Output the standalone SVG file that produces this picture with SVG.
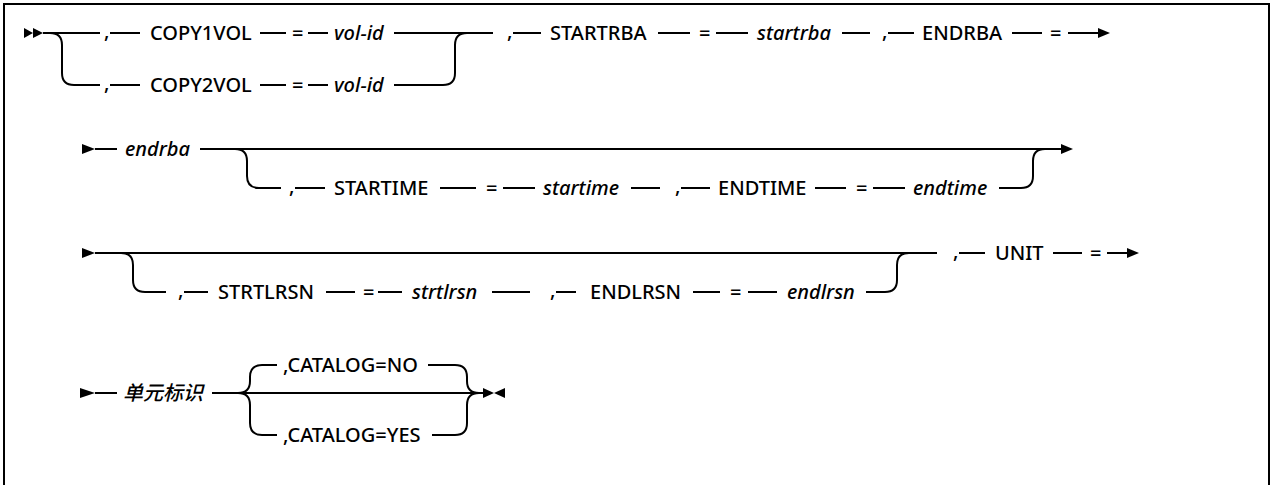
<svg xmlns="http://www.w3.org/2000/svg" width="1274" height="485" viewBox="0 0 1274 485">
<style>
.t{font-family:"Noto Sans","Liberation Sans",Arial,sans-serif;font-size:20px;font-weight:500;fill:#000}
.v{font-style:italic}
.c{font-family:"Noto Sans","Noto Sans CJK SC",sans-serif;font-size:20px;font-weight:500;font-style:italic;fill:#000}
.ln{stroke:#000;stroke-width:2;fill:none}
.ah{fill:#000}
</style>
<rect x="4" y="4" width="1265" height="500" fill="#fff" stroke="#000" stroke-width="2"/>
<g id="connectors">
<!-- row 1 -->
<polygon class="ah" points="24,28 33,33 24,38"/>
<polygon class="ah" points="33,28 43,33 33,38"/>
<path class="ln" d="M43 33H100"/>
<path class="ln" d="M50 33Q62 33 62 45V73Q62 85 74 85H100"/>
<path class="ln" d="M110 33H140M260 33H286M308 33H328M394 33H493"/>
<path class="ln" d="M110 85H140M260 85H286M308 85H328M394 85H443Q455 85 455 73V45Q455 33 467 33"/>
<path class="ln" d="M513 33H541M658 33H690M716 33H748M842 33H870M888 33H914M1012 33H1042M1068 33H1099"/>
<polygon class="ah" points="1098,28 1110,33 1098,38"/>
<!-- row 2 -->
<polygon class="ah" points="82,144 95,149 82,154"/>
<path class="ln" d="M95 149H117M200 149H1062"/>
<polygon class="ah" points="1061,144 1073,149 1061,154"/>
<path class="ln" d="M235 149Q247 149 247 161V176Q247 188 259 188H281"/>
<path class="ln" d="M295 188H325M440 188H476M503 188H535M631 188H660M681 188H710M815 188H846M873 188H905M999 188H1021Q1033 188 1033 176V161Q1033 149 1045 149"/>
<!-- row 3 -->
<polygon class="ah" points="82,248 95,253 82,258"/>
<path class="ln" d="M95 253H937"/>
<path class="ln" d="M121 253Q133 253 133 265V280Q133 292 145 292H166"/>
<path class="ln" d="M184 292H208M326 292H355M378 292H402M492 292H530M556 292H576M693 292H720M748 292H777M866 292H885Q897 292 897 280V265Q897 253 909 253"/>
<path class="ln" d="M959 253H985M1053 253H1082M1107 253H1128"/>
<polygon class="ah" points="1127,248 1139,253 1127,258"/>
<!-- row 4 -->
<polygon class="ah" points="80,388 95,393 80,398"/>
<path class="ln" d="M95 393H117M212 393H484"/>
<path class="ln" d="M238 393Q250 393 250 381V377Q250 365 262 365H277"/>
<path class="ln" d="M238 393Q250 393 250 405V423Q250 435 262 435H277"/>
<path class="ln" d="M428 365H455Q467 365 467 377V381Q467 393 479 393"/>
<path class="ln" d="M432 435H455Q467 435 467 423V405Q467 393 479 393"/>
<polygon class="ah" points="483,388 494,393 483,398"/>
<polygon class="ah" points="505,388 494,393 505,398"/>
</g>
<g id="n-comma1a"><text class="t" x="104" y="38">,</text></g>
<g id="n-copy1vol"><text class="t" x="150" y="40">COPY1VOL</text></g>
<g id="n-eq1a"><text class="t" x="292" y="40">=</text></g>
<g id="n-volid1"><text class="t v" x="334" y="40">vol-id</text></g>
<g id="n-comma1b"><text class="t" x="104" y="90">,</text></g>
<g id="n-copy2vol"><text class="t" x="150" y="92">COPY2VOL</text></g>
<g id="n-eq1b"><text class="t" x="292" y="92">=</text></g>
<g id="n-volid2"><text class="t v" x="334" y="92">vol-id</text></g>
<g id="n-comma2"><text class="t" x="507" y="38">,</text></g>
<g id="n-startrba-kw"><text class="t" x="550" y="40">STARTRBA</text></g>
<g id="n-eq2"><text class="t" x="699" y="40">=</text></g>
<g id="n-startrba"><text class="t v" x="757" y="40">startrba</text></g>
<g id="n-comma3"><text class="t" x="882" y="38">,</text></g>
<g id="n-endrba-kw"><text class="t" x="922" y="40">ENDRBA</text></g>
<g id="n-eq3"><text class="t" x="1050" y="40">=</text></g>
<g id="n-endrba"><text class="t v" x="125" y="156">endrba</text></g>
<g id="n-comma4"><text class="t" x="289" y="193">,</text></g>
<g id="n-startime-kw"><text class="t" x="334" y="195">STARTIME</text></g>
<g id="n-eq4"><text class="t" x="486" y="195">=</text></g>
<g id="n-startime"><text class="t v" x="543" y="195">startime</text></g>
<g id="n-comma5"><text class="t" x="675" y="193">,</text></g>
<g id="n-endtime-kw"><text class="t" x="718" y="195">ENDTIME</text></g>
<g id="n-eq5"><text class="t" x="856" y="195">=</text></g>
<g id="n-endtime"><text class="t v" x="913" y="195">endtime</text></g>
<g id="n-comma6"><text class="t" x="178" y="297">,</text></g>
<g id="n-strtlrsn-kw"><text class="t" x="218" y="299">STRTLRSN</text></g>
<g id="n-eq6"><text class="t" x="363" y="299">=</text></g>
<g id="n-strtlrsn"><text class="t v" x="412" y="299">strtlrsn</text></g>
<g id="n-comma7"><text class="t" x="550" y="297">,</text></g>
<g id="n-endlrsn-kw"><text class="t" x="590" y="299">ENDLRSN</text></g>
<g id="n-eq7"><text class="t" x="730" y="299">=</text></g>
<g id="n-endlrsn"><text class="t v" x="787" y="299">endlrsn</text></g>
<g id="n-comma8"><text class="t" x="953" y="258">,</text></g>
<g id="n-unit"><text class="t" x="995" y="260">UNIT</text></g>
<g id="n-eq8"><text class="t" x="1090" y="260">=</text></g>
<g id="n-unitid"><text class="c" x="123" y="400">单元标识</text></g>
<g id="n-catno"><text class="t" x="283" y="372">,CATALOG=NO</text></g>
<g id="n-catyes"><text class="t" x="283" y="442">,CATALOG=YES</text></g>
</svg>
